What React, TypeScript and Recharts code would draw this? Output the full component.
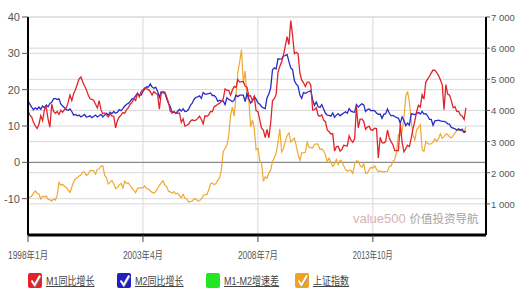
import React from 'react';
import {
  ComposedChart,
  Line,
  XAxis,
  YAxis,
  CartesianGrid,
  ReferenceLine,
} from 'recharts';

// monthly, 1998-01 .. 2018-01
const m1Growth = [
  14.3, 13.0, 12.5, 11.0, 10.0, 9.3, 10.5, 12.8, 11.5, 14.5, 15.2, 11.9, // 1998
  9.7, 16.0, 14.0, 13.5, 14.0, 13.2, 14.3, 13.8, 14.5, 15.0, 16.5, 18.5, // 1999
  17.0, 18.9, 20.0, 21.5, 23.0, 23.5, 22.1, 21.0, 20.0, 18.5, 17.5, 17.3, // 2000
  17.1, 16.0, 15.0, 17.0, 14.5, 13.4, 13.6, 13.0, 12.5, 13.4, 12.8, 12.7, // 2001
  9.5, 11.5, 12.5, 13.0, 13.7, 13.5, 14.5, 15.0, 16.0, 16.5, 17.5, 17.0, // 2002
  19.0, 18.0, 19.5, 20.0, 20.5, 20.2, 20.0, 19.5, 18.5, 19.5, 19.0, 18.7, // 2003
  14.6, 19.0, 19.5, 19.3, 18.0, 16.5, 14.0, 13.8, 14.0, 13.5, 13.5, 13.6, // 2004
  11.0, 12.0, 10.0, 10.2, 10.5, 11.3, 11.7, 11.5, 11.6, 12.1, 12.7, 11.8, // 2005
  10.6, 12.8, 12.7, 13.0, 14.0, 13.9, 15.3, 15.6, 16.0, 16.3, 16.8, 17.5, // 2006
  20.2, 19.8, 19.8, 18.5, 19.9, 20.9, 20.6, 22.8, 22.1, 22.2, 22.2, 21.0, // 2007
  20.7, 18.2, 18.3, 16.9, 18.1, 14.2, 14.0, 11.7, 9.4, 8.9, 6.8, 9.1, // 2008
  6.7, 10.9, 17.0, 17.5, 18.7, 24.8, 26.4, 27.7, 29.5, 32.0, 34.6, 32.4, // 2009
  39.0, 34.9, 29.9, 30.3, 29.9, 24.6, 22.6, 21.9, 20.9, 22.1, 22.1, 21.2, // 2010
  14.4, 14.5, 15.0, 12.9, 12.7, 13.1, 11.6, 11.2, 8.9, 8.4, 7.8, 7.9, // 2011
  3.1, 4.3, 4.4, 3.1, 3.5, 4.7, 4.6, 4.5, 7.3, 6.1, 5.5, 6.5, // 2012
  15.3, 9.5, 11.9, 11.9, 11.3, 9.1, 9.7, 9.9, 8.9, 8.9, 9.4, 9.3, // 2013
  1.2, 6.9, 5.4, 5.3, 5.7, 8.9, 6.7, 5.7, 4.8, 3.2, 3.2, 3.2, // 2014
  10.6, 5.6, 2.9, 3.7, 4.7, 4.3, 6.6, 9.3, 11.4, 14.0, 15.7, 15.2, // 2015
  18.6, 17.4, 22.1, 22.9, 23.7, 24.6, 25.4, 25.3, 24.7, 23.9, 22.7, 21.4, // 2016
  14.5, 21.4, 18.8, 18.5, 17.0, 15.0, 15.3, 14.0, 14.0, 13.0, 12.7, 11.8, // 2017
  15.0, // 2018
];

const m2Growth = [
  17.0, 16.0, 15.2, 14.5, 15.0, 14.6, 15.2, 14.6, 15.5, 15.0, 15.8, 15.3,
  16.2, 16.5, 17.5, 17.6, 17.3, 17.5, 16.0, 15.5, 15.0, 14.5, 14.3, 14.7,
  14.0, 13.0, 13.2, 12.8, 13.0, 12.5, 12.8, 13.2, 12.5, 12.6, 12.8, 12.3,
  12.6, 13.0, 12.5, 12.8, 13.2, 12.5, 13.0, 13.5, 13.0, 13.8, 13.4, 14.0,
  13.5, 13.8, 14.5, 14.2, 14.8, 15.5, 16.0, 16.2, 16.8, 17.5, 17.6, 18.3,
  19.0, 18.5, 18.5, 19.5, 20.2, 20.8, 20.7, 21.6, 20.7, 20.4, 20.7, 19.6,
  17.9, 19.4, 19.1, 19.1, 17.5, 16.2, 15.3, 13.6, 13.9, 13.5, 14.0, 14.6,
  14.1, 14.7, 14.0, 14.1, 14.6, 15.7, 16.3, 17.3, 17.9, 18.0, 18.3, 17.6,
  19.2, 18.8, 18.8, 18.9, 19.1, 18.4, 18.4, 17.9, 16.8, 17.1, 16.8, 16.9,
  15.9, 17.8, 17.3, 17.1, 16.7, 17.1, 18.5, 18.1, 18.5, 18.5, 18.5, 16.7,
  18.9, 17.5, 16.3, 16.9, 18.1, 17.4, 16.4, 16.0, 15.3, 15.0, 14.8, 17.8,
  18.8, 20.5, 25.5, 26.0, 25.7, 28.5, 28.4, 28.5, 29.3, 29.4, 29.7, 27.7,
  26.0, 25.5, 22.5, 21.5, 21.0, 18.5, 17.6, 19.2, 19.0, 19.3, 19.5, 19.7,
  17.2, 15.7, 16.6, 15.3, 15.1, 15.9, 14.7, 13.5, 13.0, 12.9, 12.7, 13.6,
  12.4, 13.0, 13.4, 12.8, 13.2, 13.6, 13.9, 13.5, 14.8, 14.1, 13.9, 13.8,
  15.9, 15.2, 15.7, 16.1, 15.8, 14.0, 14.5, 14.7, 14.2, 14.3, 14.2, 13.6,
  13.2, 13.3, 12.1, 13.2, 13.4, 14.7, 13.5, 12.8, 12.9, 12.6, 12.3, 12.2,
  10.8, 12.5, 11.6, 10.1, 10.8, 10.2, 13.3, 13.3, 13.1, 13.5, 13.7, 13.3,
  14.0, 13.3, 13.4, 12.8, 11.8, 11.8, 10.2, 11.4, 11.5, 11.6, 11.4, 11.3,
  11.3, 11.1, 10.6, 10.5, 9.6, 9.4, 9.2, 8.9, 9.2, 8.8, 9.1, 8.2,
  8.6,
];

const shIndex = [
  1206, 1213, 1243, 1343, 1411, 1339, 1316, 1150, 1243, 1217, 1256, 1147,
  1135, 1090, 1158, 1120, 1280, 1689, 1601, 1627, 1556, 1532, 1441, 1367,
  1535, 1714, 1800, 1836, 1894, 1928, 2023, 2021, 1910, 1961, 2070, 2073,
  2065, 1959, 2112, 2119, 2214, 2218, 1920, 1834, 1642, 1690, 1748, 1646,
  1491, 1524, 1603, 1657, 1515, 1733, 1651, 1670, 1581, 1507, 1437, 1358,
  1500, 1511, 1511, 1521, 1576, 1487, 1477, 1421, 1367, 1349, 1397, 1497,
  1590, 1675, 1742, 1595, 1555, 1399, 1386, 1342, 1396, 1320, 1340, 1266,
  1191, 1306, 1181, 1159, 1060, 1080, 1083, 1162, 1155, 1092, 1099, 1161,
  1258, 1299, 1298, 1441, 1642, 1672, 1612, 1658, 1752, 1837, 2099, 2675,
  2786, 2881, 3183, 3841, 4109, 3820, 4471, 5218, 5552, 5954, 4871, 5261,
  4383, 4348, 3472, 3693, 3433, 2736, 2775, 2397, 2293, 1729, 1871, 1821,
  1991, 2082, 2373, 2477, 2633, 2959, 3412, 2667, 2779, 2996, 3195, 3277,
  2989, 3051, 3110, 2870, 2592, 2398, 2638, 2639, 2656, 2979, 2820, 2808,
  2791, 2905, 2928, 2911, 2743, 2762, 2701, 2568, 2359, 2468, 2333, 2199,
  2292, 2428, 2263, 2396, 2373, 2226, 2103, 2047, 2086, 2069, 1980, 2269,
  2385, 2366, 2237, 2178, 2301, 1979, 1994, 2098, 2175, 2141, 2220, 2116,
  2033, 2056, 2033, 2026, 2039, 2048, 2202, 2218, 2364, 2420, 2683, 3235,
  3210, 3310, 3748, 4442, 4612, 4277, 3664, 3206, 3053, 3383, 3446, 3539,
  2738, 2688, 3004, 2938, 2917, 2930, 2979, 3085, 3005, 3100, 3250, 3104,
  3159, 3242, 3223, 3155, 3117, 3192, 3273, 3361, 3349, 3393, 3317, 3307,
  3480,
];

const xTicks = [0, 63, 126, 189];
const xTickLabels = ['1998年1月', '2003年4月', '2008年7月', '2013年10月'];
const leftTicks = [-10, 0, 10, 20, 30, 40];
const rightTicks = [1000, 2000, 3000, 4000, 5000, 6000, 7000];

const legendNames = ['M1同比增长', 'M2同比增长', 'M1-M2增速差', '上证指数'];
const legendColors = ['#e3222b', '#1f1fc4', '#22e622', '#f0a21e'];
const legendChecked = [true, true, false, true];

const data = m1Growth.map((v, i) => ({
  i,
  m1: v,
  m2: m2Growth[i],
  sh: shIndex[i],
}));

const FONT = '"Liberation Sans", Arial, "Noto Sans CJK SC", sans-serif';

const XTick = ({ x, y, payload }: any) => {
  const label = xTickLabels[xTicks.indexOf(payload.value)] ?? '';
  return (
    <text
      x={x}
      y={y}
      dy={13}
      textAnchor="middle"
      fontSize={10.5}
      fill="#555"
      fontFamily={FONT}
      textLength={label.length >= 9 ? 45 : 40}
      lengthAdjust="spacingAndGlyphs"
    >
      {label}
    </text>
  );
};

// "7 000" style labels, drawn as one text so it never wraps
const RightTick = ({ x, y, payload }: any) => {
  const v = payload.value as number;
  const label = `${Math.floor(v / 1000)}\u00a0${String(v % 1000).padStart(3, '0')}`;
  return (
    <text x={x} y={y} dy={4} textAnchor="start" fontSize={9.5} fill="#555" fontFamily={FONT}>
      {label}
    </text>
  );
};

const CheckBox = ({ color, checked }: { color: string; checked: boolean }) => (
  <svg width={14} height={15} style={{ display: 'block' }}>
    <rect x={0} y={0} width={14} height={15} rx={2} fill={color} />
    {checked && (
      <>
        <path d="M3.5 7.5 L6.5 12 L12 2.5" stroke="#999" strokeWidth={2} fill="none" transform="translate(0.6,0.6)" />
        <path d="M3.5 7.5 L6.5 12 L12 2.5" stroke="#fff" strokeWidth={1.8} fill="none" />
      </>
    )}
  </svg>
);

export default function App() {
  return (
    <div style={{ position: 'absolute', left: 0, top: 0, width: 516, height: 288, background: '#fff', fontFamily: FONT }}>
      <ComposedChart width={516} height={288} data={data} margin={{ top: 17, right: 0, left: 0, bottom: 0 }}>
        <CartesianGrid yAxisId="left" stroke="#d8d8d8" vertical={true} horizontal={true} />
        <CartesianGrid yAxisId="right" stroke="#d8d8d8" vertical={false} horizontal={true} />
        <XAxis
          dataKey="i"
          type="number"
          domain={[0, 251]}
          ticks={xTicks}
          interval={0}
          height={53}
          axisLine={{ stroke: '#000', strokeWidth: 3 }}
          tickLine={{ stroke: '#444' }}
          tickSize={7}
          tickMargin={4}
          tick={<XTick />}
        />
        <YAxis
          yAxisId="left"
          domain={[-20, 40]}
          ticks={leftTicks}
          interval={0}
          width={28}
          axisLine={{ stroke: '#000', strokeWidth: 2 }}
          tickLine={{ stroke: '#555' }}
          tickSize={6}
          tickMargin={2}
          tick={{ fontSize: 11, fill: '#555', fontFamily: FONT }}
        />
        <YAxis
          yAxisId="right"
          orientation="right"
          domain={[0, 7000]}
          ticks={rightTicks}
          interval={0}
          width={30}
          axisLine={{ stroke: '#000', strokeWidth: 2 }}
          tickLine={{ stroke: '#555' }}
          tickSize={4}
          tickMargin={1}
          tick={<RightTick />}
        />
        <ReferenceLine yAxisId="left" y={0} stroke="#777" strokeWidth={1} />
        <Line yAxisId="right" dataKey="sh" type="linear" stroke="#f0a830" strokeWidth={1.2} dot={false} isAnimationActive={false} />
        <Line yAxisId="left" dataKey="m2" type="linear" stroke="#2a2ac8" strokeWidth={1.3} dot={false} isAnimationActive={false} />
        <Line yAxisId="left" dataKey="m1" type="linear" stroke="#e3232c" strokeWidth={1.3} dot={false} isAnimationActive={false} />
      </ComposedChart>

      <div style={{ position: 'absolute', left: 353, top: 211, fontSize: 13, whiteSpace: 'nowrap', lineHeight: '16px' }}>
        <span style={{ color: '#d7b0b8' }}>value500 </span>
        <span style={{ color: '#a3a3a3', fontSize: 11.5 }}>价值投资导航</span>
      </div>

      {legendNames.map((name, k) => (
        <div key={name} style={{ position: 'absolute', left: 28 + k * 89, top: 272, display: 'flex', alignItems: 'center' }}>
          <CheckBox color={legendColors[k]} checked={legendChecked[k]} />
          <span
            style={{
              marginLeft: 4,
              fontSize: 11,
              color: '#444',
              textDecoration: 'underline',
              display: 'inline-block',
              transform: 'scaleX(0.82)',
              transformOrigin: 'left center',
              whiteSpace: 'nowrap',
            }}
          >
            {name}
          </span>
        </div>
      ))}
    </div>
  );
}
